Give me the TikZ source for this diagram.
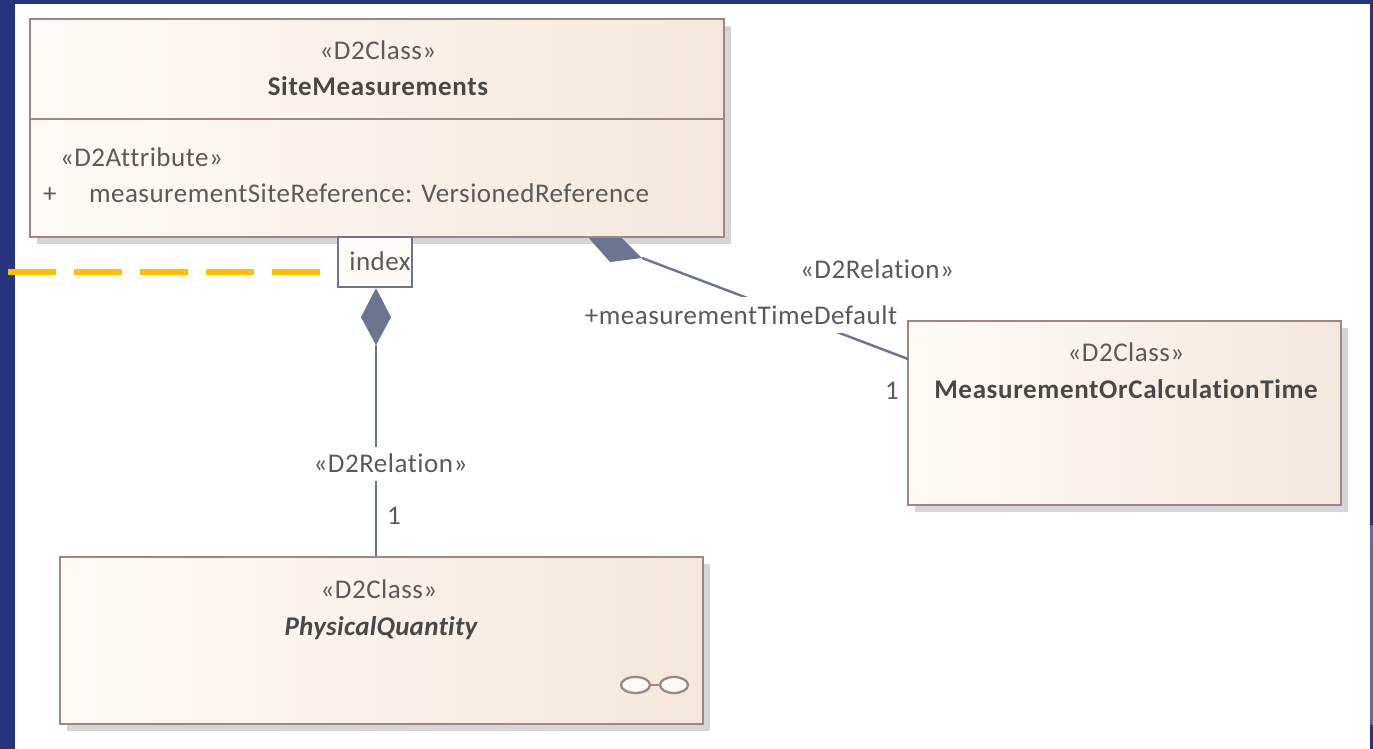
\documentclass[tikz,border=0pt]{standalone}
\usepackage{fontspec}
\setmainfont[Ligatures=NoCommon,LetterSpace=1.9]{Carlito}
\newfontfamily\widebold[Ligatures=NoCommon,LetterSpace=2.4,BoldFont={Carlito Bold},BoldItalicFont={Carlito Bold Italic}]{Carlito}
\newfontfamily\narrowbold[Ligatures=NoCommon,LetterSpace=1.0,BoldFont={Carlito Bold},BoldItalicFont={Carlito Bold Italic}]{Carlito}
\usetikzlibrary{shadows,shapes.geometric}
\definecolor{navy}{HTML}{27357F}
\definecolor{navylight}{HTML}{5A69A8}
\definecolor{edge}{HTML}{9C8686}
\definecolor{link}{HTML}{6B7590}
\definecolor{ink}{HTML}{5A5A5A}
\definecolor{inkb}{HTML}{484848}
\definecolor{fillL}{HTML}{FDFAF7}
\definecolor{fillR}{HTML}{F4E8DC}
\definecolor{dashc}{HTML}{FFC000}
\tikzset{
  classbox/.style={draw=edge,line width=2.3pt,rectangle,inner sep=0pt,left color=fillL,right color=fillR,
    drop shadow={shadow xshift=7pt,shadow yshift=-7pt,fill=black!16,opacity=1}},
  txt/.style={inner sep=0pt,outer sep=0pt,text=ink,font=\fontsize{27}{31}\selectfont,anchor=base},
  txtl/.style={txt,anchor=base west},
  bold/.style={txt,text=inkb,font=\fontsize{27}{31}\selectfont\widebold\bfseries},
  bolditalic/.style={bold,font=\fontsize{27}{31}\selectfont\narrowbold\bfseries\itshape},
  rel/.style={draw=link,line width=2.4pt},
  diam/.style={fill=link,draw=none},
  gap/.style={fill=white,inner sep=0pt},
  glass/.style={draw=edge,line width=2.3pt,fill=fillL,ellipse,inner sep=0pt,minimum height=16pt},
}
\begin{document}
\begin{tikzpicture}[x=1pt,y=-1pt]
\useasboundingbox (0,0) rectangle (1373,749);
% frame
\fill[white] (0,0) rectangle (1373,749);
\fill[navy] (0,0) rectangle (15,749);
\fill[navy] (0,0) rectangle (1373,4);
\fill[navy] (1370,0) rectangle (1373,749);
\fill[navylight] (1370,525) rectangle (1373,725);
% class boxes
\node[classbox,minimum width=694pt,minimum height=218pt] (site) at (377,128) {};
\node[classbox,minimum width=433pt,minimum height=184pt] (mtime) at (1124.5,413) {};
\node[classbox,minimum width=643pt,minimum height=167pt] (pq) at (381.5,640.5) {};
\coordinate (divL) at (30,119);
\coordinate (divR) at (724,119);
\draw[edge,line width=2.3pt] (divL) -- (divR);
% second diamond, cut off by the class box edge
\fill[diam] (589,238.2) -- (610,262) -- (642,258) -- (622,238.2) -- cycle;
% index box
\node[draw=link,line width=2.2pt,fill=fillL,rectangle,inner sep=0pt,minimum width=74pt,minimum height=50pt] (idx) at (375,262) {};
\node[txt,anchor=base] (idxt) at (380,270) {index};
% composition to PhysicalQuantity
\path (idx.south) ++(1,0) coordinate (dtop);
\fill[diam] (dtop) -- ++(15,29) -- ++(-15,28) -- ++(-15,-28) -- cycle;
\path (dtop) ++(0,57) coordinate (dbot);
\draw[rel] (dbot) -- (dbot |- pq.north);
\node[gap,minimum width=12pt,minimum height=34pt] (relb) at (376,464) {};
\node[txt] (rel1) at (390.5,472) {«D2Relation»};
\node[txt] (one1) at (394,524) {1};
% composition to MeasurementOrCalculationTime
\coordinate (mstart) at (642,258);
\coordinate (mend) at (908,359);
\draw[rel] (mstart) -- (mend);
\node[gap,minimum width=318pt,minimum height=36pt] (role) at (738,315) {};
\node[txt] (rolet) at (741,324) {+measurementTimeDefault};
\node[txt] (rel2) at (877,278) {«D2Relation»};
\node[txt] (one2) at (892,399) {1};
% dashed line
\coordinate (dashA) at (8,272);
\coordinate (dashB) at (320,272);
\draw[dashc,line width=5.5pt,dash pattern=on 48pt off 18pt] (dashA) -- (dashB);
% texts
\node[txt] (s1) at (378,60) {«D2Class»};
\node[bold] (s2) at (378,96) {SiteMeasurements};
\node[txtl] (s3) at (60,166) {«D2Attribute»};
\node[txtl] (s4) at (43,202) {+};
\node[txtl] (s5) at (89,202) {measurementSiteReference: VersionedReference};
\node[txt] (m1) at (1126,361) {«D2Class»};
\node[bold] (m2) at (1126,398) {MeasurementOrCalculationTime};
\node[txt] (p1) at (379,598) {«D2Class»};
\node[bolditalic] (p2) at (381,635) {PhysicalQuantity};
% abstract-class glasses
\node[glass,minimum width=29pt] (g1) at (635.5,685) {};
\node[glass,minimum width=28pt] (g2) at (674,685) {};
\draw[edge,line width=2.3pt] (g1) -- (g2);
\end{tikzpicture}
\end{document}
